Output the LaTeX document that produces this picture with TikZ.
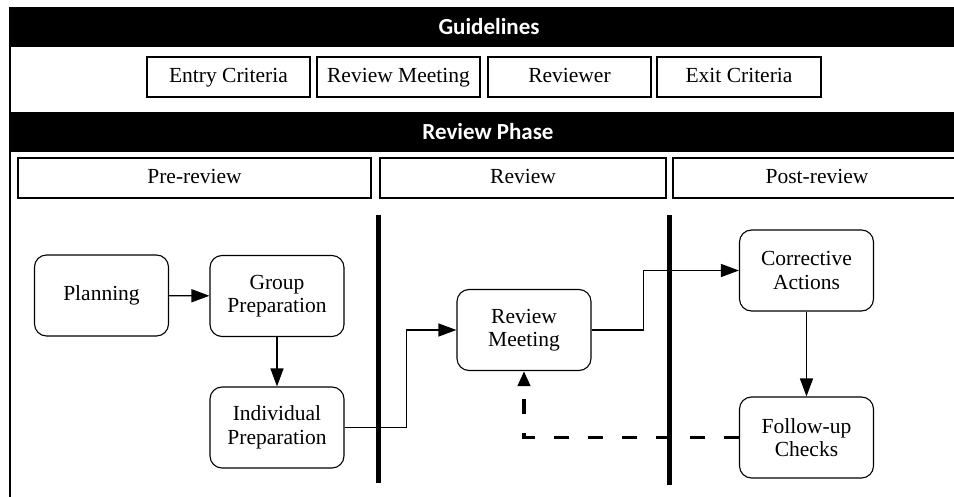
\documentclass[tikz,border=0pt]{standalone}
\usepackage{fontspec}
\setmainfont{Liberation Serif}
\newfontfamily\hdfont{Carlito}
\usetikzlibrary{arrows.meta}
\tikzset{
  bar/.style={fill=black,draw=none,minimum width=944pt,minimum height=40pt,inner sep=0pt},
  bartext/.style={text=white,inner sep=0pt,font=\hdfont\bfseries\fontsize{23}{26}\selectfont},
  gbox/.style={draw=black,line width=1.1pt,minimum height=40pt,inner sep=0pt,text height=15pt,text depth=3pt,font=\fontsize{21.5}{24}\selectfont},
  flow/.style={draw=black,line width=1.1pt,rounded corners=12pt,minimum width=134pt,minimum height=81pt,inner sep=0pt,align=center,font=\fontsize{21.5}{23.5}\selectfont},
  arr/.style={line width=1.3pt,-{Triangle[length=18pt,width=13pt]}},
  dasharr/.style={line width=3.8pt,dash pattern=on 15pt off 19pt,-{Triangle[length=15pt,width=12pt]}},
  divider/.style={line width=5pt}
}
\begin{document}
\begin{tikzpicture}[x=1pt,y=-1pt]
\useasboundingbox (0,0) rectangle (954,497);
% frame
\draw[line width=1.3pt] (10,7) -- (10,497);
\node[bar] (gbar) at (482,27) {};
\node[bartext] (gtext) at (489,27) {Guidelines};
\node[bar] (pbar) at (482,132) {};
\node[bartext] (ptext) at (488,132) {Review Phase};
% guideline boxes
\node[gbox,minimum width=163pt] (entry) at (228.5,77) {Entry Criteria};
\node[gbox,minimum width=163pt] (gmeet) at (398.5,77) {Review Meeting};
\node[gbox,minimum width=163pt] (reviewer) at (569.5,77) {Reviewer};
\node[gbox,minimum width=164pt] (exitc) at (739,77) {Exit Criteria};
% phase boxes
\node[gbox,minimum width=353pt] (pre) at (194.5,178) {Pre-review};
\node[gbox,minimum width=286pt] (rev) at (523,178) {Review};
\draw[line width=1.1pt] (954,158) -- (673,158) -- (673,198) -- (954,198);
\node[font=\fontsize{21.5}{24}\selectfont,inner sep=0pt,text height=15pt,text depth=3pt] (post) at (817,178) {Post-review};
% dividers
\coordinate (d1t) at (378,215); \coordinate (d1b) at (378,483);
\coordinate (d2t) at (669,215); \coordinate (d2b) at (669,485);
\draw[divider] (d1t) -- (d1b);
\draw[divider] (d2t) -- (d2b);
% flow nodes
\node[flow] (plan) at (101.5,295.5) {Planning};
\node[flow] (group) at (277,296) {Group\\Preparation};
\node[flow] (indiv) at (277,427.5) {Individual\\Preparation};
\node[flow] (meet) at (524,330) {Review\\Meeting};
\node[flow] (corr) at (806.5,270.5) {Corrective\\Actions};
\node[flow] (follow) at (806.5,437.5) {Follow-up\\Checks};
% connectors
\draw[arr] (plan) -- (group);
\draw[arr] (group) -- (indiv);
\draw[arr] (indiv.east) -- ++(62,0) |- (meet.west);
\draw[arr] (meet.east) -- ++(52,0) |- (corr.west);
\draw[arr] (corr) -- (follow);
\draw[dasharr] (follow.west) -| (meet.south);
\end{tikzpicture}
\end{document}
